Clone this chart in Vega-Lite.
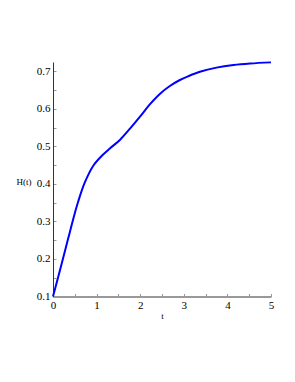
{
  "$schema": "https://vega.github.io/schema/vega-lite/v6.json",
  "autosize": "none",
  "width": 218,
  "height": 234.5,
  "padding": {"left": 53, "top": 62, "right": 24, "bottom": 85.5},
  "background": "white",
  "config": {"view": {"stroke": null}, "font": "Liberation Serif"},
  "data": {"values": [
    {"t": 0, "H": 0.1},
    {"t": 0.2, "H": 0.188},
    {"t": 0.34, "H": 0.251},
    {"t": 0.5, "H": 0.322},
    {"t": 0.58, "H": 0.354},
    {"t": 0.73, "H": 0.404},
    {"t": 0.92, "H": 0.448},
    {"t": 1.12, "H": 0.475},
    {"t": 1.31, "H": 0.495},
    {"t": 1.54, "H": 0.518},
    {"t": 1.77, "H": 0.548},
    {"t": 2.0, "H": 0.58},
    {"t": 2.22, "H": 0.612},
    {"t": 2.45, "H": 0.64},
    {"t": 2.68, "H": 0.661},
    {"t": 2.91, "H": 0.677},
    {"t": 3.1, "H": 0.687},
    {"t": 3.37, "H": 0.699},
    {"t": 3.75, "H": 0.71},
    {"t": 4.14, "H": 0.717},
    {"t": 4.52, "H": 0.721},
    {"t": 5.0, "H": 0.724}
  ]},
  "mark": {"type": "line", "color": "#0000ff", "strokeWidth": 2, "interpolate": "catmull-rom", "clip": false},
  "encoding": {
    "x": {
      "field": "t", "type": "quantitative",
      "scale": {"domain": [0, 5], "nice": false, "zero": false},
      "axis": {
        "title": "t", "grid": false,
        "values": [0, 0.5, 1, 1.5, 2, 2.5, 3, 3.5, 4, 4.5, 5],
        "labelExpr": "datum.value % 1 === 0 ? format(datum.value, 'd') : ''",
        "domainColor": "#999999", "domainWidth": 2,
        "tickColor": "#999999", "tickSize": -3, "tickWidth": 1,
        "labelFont": "Liberation Serif", "labelFontSize": 11, "labelColor": "#000000",
        "labelPadding": 6, "labelFlush": false,
        "titleFont": "Liberation Serif", "titleFontSize": 9, "titleFontWeight": "normal", "titleColor": "#000000",
        "titleY": 22, "titleBaseline": "alphabetic"
      }
    },
    "y": {
      "field": "H", "type": "quantitative",
      "scale": {"domain": [0.1, 0.725], "nice": false, "zero": false},
      "axis": {
        "title": "H(t)", "grid": false,
        "values": [0.1, 0.15, 0.2, 0.25, 0.3, 0.35, 0.4, 0.45, 0.5, 0.55, 0.6, 0.65, 0.7],
        "labelExpr": "abs(datum.value * 10 - round(datum.value * 10)) < 0.001 ? format(datum.value, '.1f') : ''",
        "domainColor": "#333333", "domainWidth": 1,
        "tickColor": "#999999", "tickSize": -3, "tickWidth": 1,
        "labelFont": "Liberation Serif", "labelFontSize": 11, "labelColor": "#000000",
        "labelPadding": 6, "labelFlush": false,
        "titleFont": "Liberation Serif", "titleFontSize": 9, "titleFontWeight": "normal", "titleColor": "#000000",
        "titleAngle": 0, "titleX": -22, "titleY": 119, "titleAlign": "right", "titleBaseline": "middle"
      }
    }
  }
}
